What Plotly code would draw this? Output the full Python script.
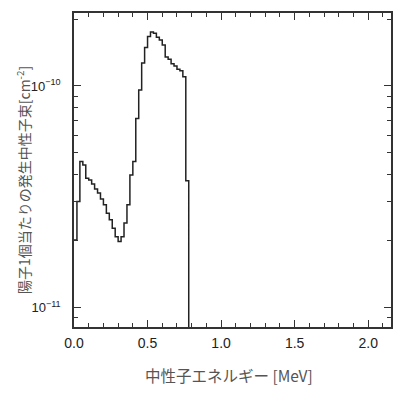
import plotly.graph_objects as go

# Lower edges of energy bins [MeV]
energy_edges = [0.00, 0.02, 0.04, 0.06, 0.08, 0.10, 0.12, 0.14, 0.16, 0.18,
                0.20, 0.22, 0.24, 0.26, 0.28, 0.30, 0.32, 0.34, 0.36, 0.38,
                0.40, 0.42, 0.44, 0.46, 0.48, 0.50, 0.52, 0.54, 0.56, 0.58,
                0.60, 0.62, 0.64, 0.66, 0.68, 0.70, 0.72, 0.74, 0.76, 0.78, 2.20]
# Neutron fluence per proton [cm^-2] per bin (tiny value = empty bins)
fluence = [2.02e-11, 3.01e-11, 4.56e-11, 4.40e-11, 3.84e-11, 3.77e-11, 3.61e-11,
           3.43e-11, 3.29e-11, 3.09e-11, 2.91e-11, 2.67e-11, 2.49e-11, 2.28e-11,
           2.09e-11, 1.99e-11, 2.09e-11, 2.41e-11, 2.91e-11, 3.97e-11, 4.56e-11,
           7.13e-11, 9.59e-11, 1.27e-10, 1.49e-10, 1.67e-10, 1.75e-10, 1.73e-10,
           1.66e-10, 1.61e-10, 1.53e-10, 1.35e-10, 1.32e-10, 1.26e-10, 1.23e-10,
           1.19e-10, 1.17e-10, 1.10e-10, 3.74e-11, 1e-14, 1e-14]

x_major = [0.0, 0.5, 1.0, 1.5, 2.0]
x_labels = ["0.0", "0.5", "1.0", "1.5", "2.0"]
y_major = [1e-11, 1e-10]
y_labels = ["10<sup>−11</sup>", "10<sup>−10</sup>"]
y_minor = [9e-12, 2e-11, 3e-11, 4e-11, 5e-11, 6e-11, 7e-11, 8e-11, 9e-11, 2e-10]
x_minor = [0.1, 0.2, 0.3, 0.4, 0.6, 0.7, 0.8, 0.9, 1.1, 1.2, 1.3, 1.4,
           1.6, 1.7, 1.8, 1.9, 2.1]

xtitle = "中性子エネルギー [MeV]"
ytitle = "陽子1個当たりの発生中性子束[cm<sup>-2</sup>]"

fig = go.Figure()
fig.add_trace(go.Scatter(x=energy_edges, y=fluence, mode="lines",
                         line=dict(shape="hv", color="#222222", width=1.5),
                         showlegend=False, hoverinfo="skip"))

axis_common = dict(showline=True, linecolor="#333333", linewidth=1.5,
                   mirror="ticks", ticks="inside", tickcolor="#333333",
                   showgrid=False, zeroline=False, automargin=False)

# page body adds an 8px offset, so the figure is sized 402x386
fig.update_layout(
    width=402, height=386,
    margin=dict(l=66, r=19, t=5, b=67),
    paper_bgcolor="white", plot_bgcolor="white",
    xaxis=dict(range=[0, 2.155], tickmode="array", tickvals=x_major, ticktext=x_labels,
               ticklen=7, tickwidth=1, ticklabelstandoff=2,
               tickfont=dict(family="Liberation Sans, Arial", size=14, color="#222222"),
               minor=dict(tickmode="array", tickvals=x_minor, ticks="inside", ticklen=4,
                          tickcolor="#333333", tickwidth=1, showgrid=False),
               **axis_common),
    yaxis=dict(type="log", range=[-11.087, -9.671], tickmode="array",
               tickvals=y_major, ticktext=y_labels, ticklen=7, tickwidth=1,
               ticklabelstandoff=9,
               tickfont=dict(family="Liberation Sans, Arial", size=13, color="#222222"),
               minor=dict(tickmode="array", tickvals=y_minor, ticks="inside", ticklen=4,
                          tickcolor="#333333", tickwidth=1, showgrid=False),
               **axis_common),
    annotations=[
        dict(text=xtitle, xref="paper", yref="paper", x=0.5, y=0, xanchor="center",
             yanchor="middle", xshift=-4, yshift=-48, showarrow=False,
             font=dict(family="Noto Sans CJK JP", size=15.5, color="#555555")),
        dict(text=ytitle, xref="paper", yref="paper", x=0, y=0.5, xanchor="center",
             yanchor="middle", xshift=-51, yshift=-10, textangle=-90, showarrow=False,
             font=dict(family="Noto Sans CJK JP", size=14, color="#555555")),
    ],
)

fig.write_html("out.html")
